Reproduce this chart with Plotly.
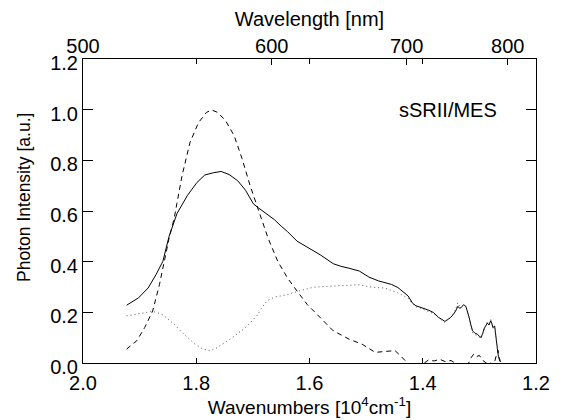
import plotly.graph_objects as go

# ---- data (wavenumber in 10^4 cm^-1, intensity in a.u.) ----
solid_x = [1.923, 1.910, 1.902, 1.885, 1.871, 1.859, 1.848, 1.834, 1.816, 1.799, 1.785, 1.770,
           1.756, 1.742, 1.727, 1.713, 1.699, 1.690, 1.679, 1.662, 1.650, 1.639, 1.622, 1.598,
           1.581, 1.558, 1.545, 1.530, 1.512, 1.495, 1.478, 1.455, 1.444, 1.426, 1.418, 1.412,
           1.404, 1.398, 1.389, 1.381, 1.372, 1.366, 1.361, 1.356, 1.352, 1.346, 1.342, 1.338,
           1.335, 1.332, 1.328, 1.324, 1.321, 1.318, 1.315, 1.312, 1.308, 1.303, 1.300, 1.297,
           1.294, 1.292, 1.289, 1.286, 1.283, 1.280, 1.278, 1.276, 1.273, 1.271, 1.269, 1.267,
           1.265, 1.263]
solid_y = [0.228, 0.245, 0.257, 0.296, 0.349, 0.401, 0.500, 0.590, 0.660, 0.712, 0.742, 0.751,
           0.756, 0.744, 0.720, 0.682, 0.628, 0.612, 0.595, 0.566, 0.540, 0.519, 0.481, 0.450,
           0.427, 0.392, 0.382, 0.374, 0.363, 0.339, 0.324, 0.310, 0.298, 0.265, 0.236, 0.226,
           0.220, 0.214, 0.208, 0.199, 0.180, 0.172, 0.164, 0.172, 0.177, 0.192, 0.205, 0.224,
           0.216, 0.219, 0.230, 0.224, 0.205, 0.180, 0.150, 0.127, 0.118, 0.113, 0.105, 0.101,
           0.118, 0.134, 0.146, 0.158, 0.150, 0.167, 0.155, 0.140, 0.146, 0.100, 0.060, 0.035,
           0.015, 0.005]

dotted_x = [1.923, 1.902, 1.885, 1.877, 1.868, 1.859, 1.839, 1.822, 1.802, 1.788, 1.776, 1.765,
            1.759, 1.736, 1.713, 1.693, 1.685, 1.675, 1.662, 1.639, 1.616, 1.593, 1.564, 1.535,
            1.512, 1.490, 1.467, 1.444, 1.426, 1.418, 1.412, 1.404, 1.398, 1.389, 1.381, 1.372,
            1.366, 1.361, 1.356, 1.352, 1.346, 1.342, 1.338, 1.335, 1.332, 1.328, 1.324, 1.321,
            1.318, 1.315, 1.312, 1.308, 1.303, 1.300, 1.297, 1.294, 1.292, 1.289, 1.286, 1.283,
            1.280, 1.278, 1.276, 1.273, 1.271, 1.269, 1.267, 1.265, 1.263]
dotted_y = [0.186, 0.195, 0.202, 0.204, 0.198, 0.190, 0.153, 0.114, 0.074, 0.055, 0.048, 0.058,
            0.067, 0.101, 0.140, 0.186, 0.215, 0.245, 0.260, 0.270, 0.286, 0.299, 0.303, 0.307,
            0.309, 0.299, 0.296, 0.277, 0.256, 0.233, 0.222, 0.216, 0.210, 0.204, 0.195, 0.178,
            0.168, 0.160, 0.170, 0.178, 0.196, 0.212, 0.238, 0.225, 0.222, 0.232, 0.222, 0.200,
            0.172, 0.140, 0.120, 0.112, 0.108, 0.100, 0.096, 0.115, 0.128, 0.150, 0.162, 0.155,
            0.172, 0.160, 0.135, 0.140, 0.095, 0.055, 0.030, 0.020, 0.012]

dashed_x = [1.923, 1.905, 1.891, 1.877, 1.865, 1.857, 1.848, 1.839, 1.825, 1.811, 1.796, 1.782,
            1.773, 1.762, 1.748, 1.733, 1.719, 1.705, 1.690, 1.673, 1.656, 1.639, 1.622, 1.604,
            1.581, 1.558, 1.530, 1.507, 1.484, 1.472, 1.461, 1.449, 1.440, 1.432, 1.426, 1.415,
            1.400, 1.390, 1.380, 1.370, 1.360, 1.350, 1.340, 1.330, 1.320, 1.315, 1.310, 1.305,
            1.300, 1.295, 1.290, 1.285, 1.280, 1.275, 1.270, 1.267, 1.265, 1.263]
dashed_y = [0.055, 0.088, 0.140, 0.205, 0.309, 0.401, 0.492, 0.571, 0.740, 0.871, 0.949, 0.989,
            0.999, 0.989, 0.956, 0.897, 0.806, 0.701, 0.600, 0.492, 0.401, 0.336, 0.284, 0.231,
            0.179, 0.127, 0.094, 0.074, 0.042, 0.045, 0.046, 0.049, 0.030, 0.012, -0.002, -0.015,
            -0.005, 0.012, 0.008, 0.015, 0.005, 0.010, -0.005, -0.010, -0.005, 0.020, 0.035, 0.025,
            0.030, 0.012, 0.005, -0.005, 0.000, -0.010, 0.030, 0.050, 0.020, 0.005]

x_ticks = [2.0, 1.8, 1.6, 1.4, 1.2]
y_ticks = [0.0, 0.2, 0.4, 0.6, 0.8, 1.0, 1.2]
wl_ticks = [500, 600, 700, 800]

FONT = "Liberation Sans, Arial, sans-serif"
TICK_FS = 20

fig = go.Figure()
fig.add_trace(go.Scatter(x=solid_x, y=solid_y, mode="lines",
                         line=dict(color="black", width=1), showlegend=False))
fig.add_trace(go.Scatter(x=dashed_x, y=dashed_y, mode="lines",
                         line=dict(color="black", width=1, dash="5px,4px"), showlegend=False))
fig.add_trace(go.Scatter(x=dotted_x, y=dotted_y, mode="lines", xaxis="x2",
                         line=dict(color="#555555", width=1, dash="1px,3px"), showlegend=False))

fig.update_layout(
    width=562, height=420,
    margin=dict(l=83, r=14, t=59, b=54),
    paper_bgcolor="white", plot_bgcolor="white",
    font=dict(family=FONT, size=TICK_FS, color="black"),
    xaxis=dict(range=[2.0, 1.2], tickvals=x_ticks, ticktext=[f"{v:.1f}" for v in x_ticks],
               ticks="inside", ticklen=5, tickcolor="black", showline=True, linecolor="black",
               linewidth=1, mirror="ticks", showgrid=False, zeroline=False,
               tickfont=dict(size=TICK_FS), ticklabelstandoff=2,
               title=dict(text="Wavenumbers [10<sup>4</sup>cm<sup>-1</sup>]", standoff=1,
                          font=dict(size=19))),
    xaxis2=dict(range=[2.0, 1.2], overlaying="x", side="top",
                tickvals=[1000.0 / w for w in wl_ticks], ticktext=[str(w) for w in wl_ticks],
                ticks="inside", ticklen=6, tickcolor="black", showline=False, showgrid=False,
                zeroline=False, tickfont=dict(size=TICK_FS), ticklabelstandoff=1,
                title=dict(text="Wavelength [nm]", standoff=3, font=dict(size=20))),
    yaxis=dict(range=[0.0, 1.2], tickvals=y_ticks, ticktext=[f"{v:.1f}" for v in y_ticks],
               ticks="inside", ticklen=10, tickcolor="black", showline=True, linecolor="black",
               linewidth=1, mirror="ticks", showgrid=False, zeroline=False,
               tickfont=dict(size=TICK_FS), ticklabelshift=4),
    annotations=[
        dict(text="Photon Intensity [a.u.]", xref="paper", yref="paper", x=-0.129, y=0.545,
             textangle=-90, showarrow=False, font=dict(size=17.5), xanchor="center",
             yanchor="middle"),
        dict(text="sSRII/MES", xref="x", yref="y", x=1.355, y=1.0, showarrow=False,
             font=dict(size=20), xanchor="center", yanchor="middle"),
    ],
)

fig.write_html("out.html")
